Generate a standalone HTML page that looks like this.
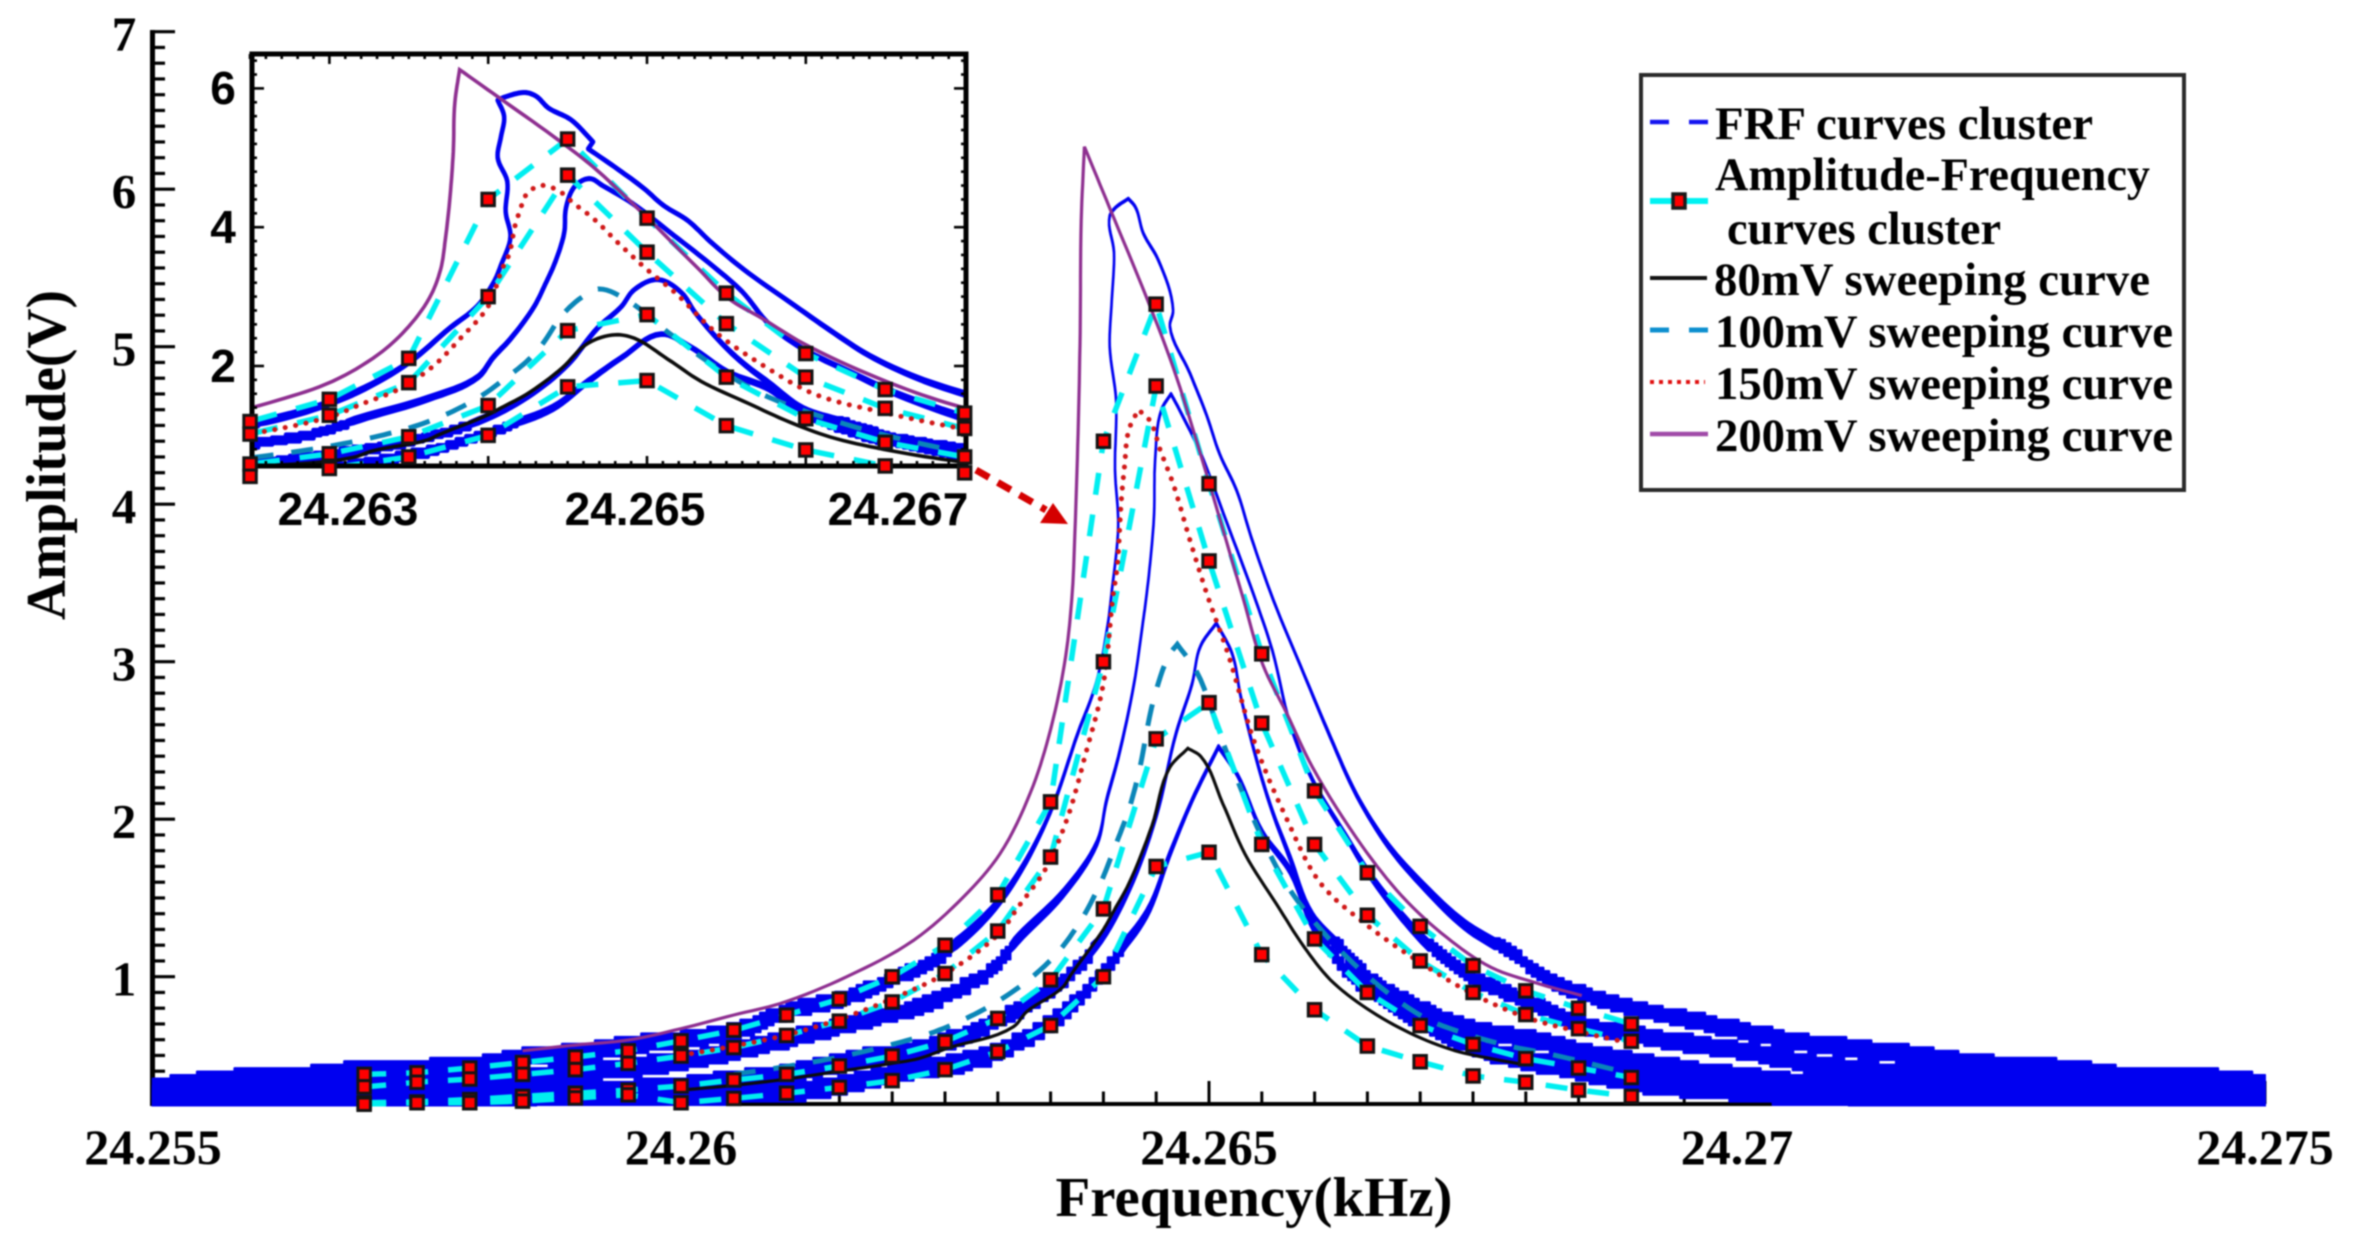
<!DOCTYPE html>
<html lang="en">
<head>
<meta charset="utf-8">
<title>FRF and amplitude-frequency curves</title>
<style>
html,body{margin:0;padding:0;background:#fff;width:2354px;height:1254px;overflow:hidden}
svg{display:block;filter:blur(.7px)}
text{font-family:"Liberation Serif",serif;font-weight:bold;fill:#000}
.sans{font-family:"Liberation Sans",sans-serif}
</style>
</head>
<body>
<svg id="chart" width="2354" height="1254" viewBox="0 0 2354 1254" xmlns="http://www.w3.org/2000/svg">
  <defs>
    <clipPath id="main-clip"><rect x="150" y="0" width="2116" height="1106.5"></rect></clipPath>
    <clipPath id="inset-clip"><rect x="252" y="54" width="714" height="412"></rect></clipPath>
  </defs>
  <g id="main-axes"></g>
  <g id="main-plot" clip-path="url(#main-clip)"></g>
  <g id="main-markers"></g>
  <text x="1254" y="1216" font-size="56" text-anchor="middle" textLength="397" lengthAdjust="spacingAndGlyphs">Frequency(kHz)</text>
  <text transform="translate(65 620) rotate(-90)" font-size="56" textLength="330" lengthAdjust="spacingAndGlyphs">Amplitude(V)</text>

  <g id="inset-plot" clip-path="url(#inset-clip)"></g>
  <g id="inset-axes"></g>
  <g id="inset-markers"></g>
  <text class="sans" x="348" y="525" font-size="46" text-anchor="middle">24.263</text>
  <text class="sans" x="635" y="525" font-size="46" text-anchor="middle">24.265</text>
  <text class="sans" x="898" y="525" font-size="46" text-anchor="middle">24.267</text>
  <text class="sans" x="223" y="104" font-size="46" text-anchor="middle">6</text>
  <text class="sans" x="223" y="243" font-size="46" text-anchor="middle">4</text>
  <text class="sans" x="223" y="382" font-size="46" text-anchor="middle">2</text>

  <g>
    <line x1="976" y1="470" x2="1046" y2="510" stroke="#d40000" stroke-width="7" stroke-dasharray="15 10"></line>
    <polygon points="1040,523 1053,503 1068,524" fill="#d40000"></polygon>
  </g>

  <g>
    <rect x="1641" y="75" width="543" height="415" fill="#fff" stroke="#2a2a2a" stroke-width="4"></rect>
    <g>
      <line x1="1650" y1="122" x2="1708" y2="122" stroke="#1414f0" stroke-width="4.5" stroke-dasharray="19 20"></line>
      <text x="1715" y="139" font-size="47" textLength="378" lengthAdjust="spacingAndGlyphs">FRF curves cluster</text>
    </g>
    <g>
      <line x1="1650" y1="201" x2="1708" y2="201" stroke="#00f2f2" stroke-width="6"></line>
      <rect x="1673" y="194" width="12" height="14" fill="#ff0000" stroke="#1a1a1a" stroke-width="3.5"></rect>
      <text x="1715" y="190" font-size="47" textLength="435" lengthAdjust="spacingAndGlyphs">Amplitude-Frequency</text>
      <text x="1727" y="244" font-size="47" textLength="274" lengthAdjust="spacingAndGlyphs">curves cluster</text>
    </g>
    <g>
      <line x1="1650" y1="278" x2="1707" y2="278" stroke="#111" stroke-width="4"></line>
      <text x="1714" y="295" font-size="47" textLength="436" lengthAdjust="spacingAndGlyphs">80mV sweeping curve</text>
    </g>
    <g>
      <line x1="1650" y1="330" x2="1708" y2="330" stroke="#0e8fcf" stroke-width="5" stroke-dasharray="19 20"></line>
      <text x="1715" y="347" font-size="47" textLength="458" lengthAdjust="spacingAndGlyphs">100mV sweeping curve</text>
    </g>
    <g>
      <line x1="1650" y1="382" x2="1705" y2="382" stroke="#e01010" stroke-width="4" stroke-dasharray="4 5"></line>
      <text x="1715" y="399" font-size="47" textLength="458" lengthAdjust="spacingAndGlyphs">150mV sweeping curve</text>
    </g>
    <g>
      <line x1="1650" y1="434" x2="1708" y2="434" stroke="#a04aa8" stroke-width="4.5"></line>
      <text x="1715" y="451" font-size="47" textLength="458" lengthAdjust="spacingAndGlyphs">200mV sweeping curve</text>
    </g>
  </g>
</svg>
<script>
// All frequencies are offsets in Hz above 24.255 kHz; amplitudes are in volts.
const xTickLabels = ["24.255", "24.26", "24.265", "24.27", "24.275"];
const xTickHz = [0, 5, 10, 15, 20];
const yTickLabels = ["1", "2", "3", "4", "5", "6", "7"];
const yTickVolts = [1, 2, 3, 4, 5, 6, 7];

// Amplitude-Frequency cluster (marker series)
const afHz = [2, 2.5, 3, 3.5, 4, 4.5, 5, 5.5, 6, 6.5, 7, 7.5, 8, 8.5, 9, 9.5, 10, 10.5, 11, 11.5, 12, 12.5, 13, 13.5, 14];
const af1Amp = [0.38, 0.39, 0.42, 0.455, 0.49, 0.53, 0.593, 0.66, 0.756, 0.858, 1.0, 1.2, 1.52, 2.11, 4.40, 5.27, 4.13, 3.05, 2.18, 1.66, 1.32, 1.07, 0.91, 0.80, 0.70];
const af2Amp = [0.30, 0.33, 0.35, 0.38, 0.41, 0.45, 0.496, 0.55, 0.627, 0.718, 0.84, 1.02, 1.29, 1.76, 3.00, 4.75, 3.64, 2.61, 1.84, 1.39, 1.10, 0.90, 0.76, 0.67, 0.59];
const af3Amp = [0.20, 0.205, 0.22, 0.24, 0.26, 0.28, 0.306, 0.344, 0.38, 0.433, 0.496, 0.587, 0.735, 0.98, 1.43, 2.51, 2.74, 1.84, 1.24, 0.90, 0.69, 0.57, 0.48, 0.42, 0.36];
const af4Amp = [0.19, 0.20, 0.20, 0.21, 0.23, 0.25, 0.20, 0.227, 0.26, 0.297, 0.34, 0.41, 0.524, 0.69, 1.00, 1.70, 1.79, 1.14, 0.79, 0.56, 0.46, 0.37, 0.33, 0.28, 0.24];

// FRF curve cluster
const frf1Hz = [0, 0.67, 1.5, 2, 3, 3.5, 4, 4.5, 5, 5.5, 6, 6.46, 7, 7.5, 7.9, 8.18, 8.5, 8.76, 8.93, 9.04, 9.08, 9.14, 9.11, 9.12, 9.06, 9.08, 9.10, 9.06, 9.11, 9.236, 9.30, 9.378, 9.52, 9.66, 9.63, 9.82, 9.98, 10.10, 10.26, 10.4, 10.61, 10.9, 11.15, 11.4, 11.7, 12.04, 12.42, 12.8, 13.22, 13.5, 14, 14.59, 15.44, 16.39, 17.33, 18.12, 18.74, 19.67, 20];
const frf1Amp = [0.295, 0.35, 0.375, 0.41, 0.43, 0.49, 0.515, 0.57, 0.60, 0.655, 0.785, 0.852, 0.99, 1.16, 1.39, 1.635, 2.05, 2.55, 2.86, 3.23, 3.45, 3.86, 4.22, 4.66, 5.0, 5.3, 5.6, 5.83, 5.88, 5.94, 5.89, 5.72, 5.55, 5.23, 5.13, 4.83, 4.56, 4.32, 4.09, 3.79, 3.39, 2.92, 2.52, 2.15, 1.83, 1.57, 1.33, 1.17, 0.975, 0.894, 0.799, 0.714, 0.596, 0.518, 0.44, 0.41, 0.36, 0.345, 0.31];
const frf2Hz = [0, 2, 3, 3.5, 4, 4.5, 5, 5.5, 5.94, 6.57, 7.2, 7.9, 8.24, 8.62, 8.94, 9.03, 9.14, 9.29, 9.37, 9.41, 9.46, 9.48, 9.49, 9.55, 9.64, 9.72, 9.91, 10.17, 10.42, 10.6, 10.77, 10.98, 11.28, 11.52, 11.83, 12.08, 12.42, 12.8, 13.23, 13.5, 14, 14.33, 15, 15.85, 16.5, 18, 20];
const frf2Amp = [0.25, 0.31, 0.352, 0.362, 0.393, 0.425, 0.467, 0.53, 0.598, 0.704, 0.81, 1.04, 1.275, 1.53, 1.85, 2.12, 2.39, 2.86, 3.23, 3.43, 3.75, 3.94, 4.28, 4.60, 4.70, 4.60, 4.34, 3.88, 3.43, 3.07, 2.6, 2.25, 1.91, 1.65, 1.38, 1.2, 1.01, 0.90, 0.778, 0.693, 0.636, 0.594, 0.528, 0.424, 0.386, 0.34, 0.28];
const frf3Hz = [0, 2, 3, 4, 4.5, 5, 5.5, 5.94, 6.57, 7.2, 7.83, 8.47, 8.94, 9.25, 9.5, 9.69, 9.84, 9.92, 10.07, 10.22, 10.3, 10.47, 10.6, 10.77, 10.98, 11.23, 11.52, 11.83, 12.25, 12.67, 13.23, 13.5, 14, 14.33, 14.81, 15.91, 17, 18.5, 20];
const frf3Amp = [0.22, 0.20, 0.24, 0.273, 0.284, 0.305, 0.347, 0.376, 0.471, 0.535, 0.683, 0.916, 1.21, 1.57, 2.02, 2.55, 2.86, 3.1, 3.245, 3.05, 2.78, 2.33, 2.05, 1.75, 1.38, 1.19, 0.98, 0.85, 0.72, 0.64, 0.573, 0.52, 0.456, 0.425, 0.378, 0.306, 0.276, 0.25, 0.23];
const frf4Hz = [0, 3, 4, 5, 5.5, 5.94, 6.57, 7.2, 7.83, 8.62, 9.1, 9.41, 9.63, 9.84, 10.09, 10.27, 10.51, 10.77, 10.98, 11.32, 11.66, 12.04, 12.5, 12.96, 13.55, 14, 14.93, 15.75, 17, 20];
const frf4Amp = [0.21, 0.22, 0.24, 0.246, 0.256, 0.26, 0.323, 0.408, 0.492, 0.789, 1.127, 1.40, 1.78, 2.12, 2.46, 2.28, 1.91, 1.67, 1.33, 1.01, 0.85, 0.69, 0.55, 0.47, 0.393, 0.33, 0.274, 0.238, 0.225, 0.21];
// Measured noise of the FRF traces: half-spread in volts against amplitude
const noiseAtAmp = [0.2, 0.45, 0.6, 1, 1.5, 2, 3, 7];
const noiseHalfSpread = [0.056, 0.056, 0.05, 0.04, 0.025, 0.012, 0.004, 0.004];
// Amplitude resolution of the FRF acquisition, volts
const adcStepVolts = 0.022;

// Sweep curves
const sweep80Hz = [5, 5.5, 6, 6.5, 7, 7.25, 7.52, 8.15, 8.27, 8.62, 8.69, 9.0, 9.1, 9.24, 9.46, 9.63, 9.8, 9.92, 10.13, 10.34, 10.64, 10.9, 11.15, 11.49, 11.91, 12.33, 12.67, 13];
const sweep80Amp = [0.28, 0.31, 0.35, 0.40, 0.45, 0.48, 0.545, 0.683, 0.775, 0.937, 1.01, 1.30, 1.42, 1.59, 1.96, 2.33, 2.45, 2.40, 2.10, 1.78, 1.46, 1.19, 0.98, 0.80, 0.64, 0.53, 0.48, 0.44];
const sweep100Hz = [5.5, 6, 6.5, 7, 7.36, 7.7, 8.02, 8.31, 8.56, 8.78, 8.97, 9.11, 9.24, 9.33, 9.48, 9.63, 9.70, 9.88, 10.13, 10.43, 10.73, 11.02, 11.49, 12.04, 12.42, 12.84, 13.22, 13.9];
const sweep100Amp = [0.38, 0.43, 0.49, 0.57, 0.64, 0.735, 0.852, 0.99, 1.148, 1.35, 1.59, 1.826, 2.06, 2.28, 2.77, 3.05, 3.11, 2.94, 2.49, 1.99, 1.59, 1.33, 1.01, 0.74, 0.64, 0.56, 0.51, 0.40];
const sweep150Hz = [5, 5.5, 6, 6.5, 7, 7.5, 8.02, 8.19, 8.44, 8.65, 8.83, 9.0, 9.09, 9.13, 9.17, 9.2, 9.24, 9.33, 9.44, 9.54, 9.66, 9.82, 9.99, 10.18, 10.43, 10.73, 11.06, 11.49, 12.0, 12.5, 13.01, 13.51, 13.94];
const sweep150Amp = [0.50, 0.56, 0.63, 0.73, 0.86, 1.02, 1.28, 1.44, 1.67, 1.99, 2.41, 2.86, 3.41, 3.6, 4.03, 4.24, 4.47, 4.60, 4.53, 4.34, 4.13, 3.77, 3.41, 3.05, 2.49, 2.01, 1.59, 1.33, 1.09, 0.89, 0.74, 0.65, 0.585];
const sweep200Hz = [3.5, 4, 4.5, 5, 5.5, 5.94, 6.57, 7.2, 7.68, 8.02, 8.31, 8.48, 8.63, 8.70, 8.73, 8.76, 8.78, 8.79, 8.82, 9.06, 9.41, 9.66, 9.91, 10.32, 10.51, 10.73, 10.98, 11.45, 11.83, 12.25, 12.67, 13.1, 13.53];
const sweep200Amp = [0.53, 0.566, 0.598, 0.67, 0.757, 0.83, 1.0, 1.23, 1.51, 1.78, 2.17, 2.52, 2.98, 3.39, 3.82, 4.45, 5.09, 5.8, 6.27, 5.88, 5.31, 4.87, 4.34, 3.41, 2.98, 2.68, 2.33, 1.83, 1.51, 1.25, 1.06, 0.96, 0.88];

const SVGNS = 'http://www.w3.org/2000/svg';
const xMain = hz => 153 + hz * 105.6;
const yMain = v => 976.7 - (v - 1) * 157.5;
const xInset = hz => 647 + (hz - 10) * 158.8;
const yInset = v => 366 - (v - 2) * 69.4;

function make(parent, tag, attrs) {
  const el = document.createElementNS(SVGNS, tag);
  for (const k in attrs) el.setAttribute(k, attrs[k]);
  parent.appendChild(el);
  return el;
}
function noiseAt(v) {
  if (v <= noiseAtAmp[0]) return noiseHalfSpread[0];
  for (let i = 1; i < noiseAtAmp.length; i++) {
    if (v <= noiseAtAmp[i]) {
      const t = (v - noiseAtAmp[i - 1]) / (noiseAtAmp[i] - noiseAtAmp[i - 1]);
      return noiseHalfSpread[i - 1] + t * (noiseHalfSpread[i] - noiseHalfSpread[i - 1]);
    }
  }
  return noiseHalfSpread[noiseHalfSpread.length - 1];
}
function linePoints(hz, amp, xf, yf) {
  return hz.map((h, i) => xf(h).toFixed(1) + ',' + yf(amp[i]).toFixed(1)).join(' ');
}
// Smooth a curve through its data points in pixel space; sharp corners stay sharp.
function smoothSample(hz, amp, xf, yf) {
  const p = hz.map((h, i) => [xf(h), yf(amp[i])]);
  const unit = (a, b) => {
    const dx = b[0] - a[0], dy = b[1] - a[1], L = Math.hypot(dx, dy) || 1;
    return [dx / L, dy / L];
  };
  const inT = [], outT = [];
  for (let i = 0; i < p.length; i++) {
    if (i === 0) { const u = unit(p[0], p[1]); inT.push(u); outT.push(u); continue; }
    if (i === p.length - 1) { const u = unit(p[i - 1], p[i]); inT.push(u); outT.push(u); continue; }
    const a = unit(p[i - 1], p[i]), b = unit(p[i], p[i + 1]);
    if (a[0] * b[0] + a[1] * b[1] < 0.45) { inT.push(a); outT.push(b); }
    else { const u = unit([0, 0], [a[0] + b[0], a[1] + b[1]]); inT.push(u); outT.push(u); }
  }
  const out = [];
  const N = 8;
  for (let i = 0; i < p.length - 1; i++) {
    const L = Math.hypot(p[i + 1][0] - p[i][0], p[i + 1][1] - p[i][1]) / 3;
    const c1 = [p[i][0] + outT[i][0] * L, p[i][1] + outT[i][1] * L];
    const c2 = [p[i + 1][0] - inT[i + 1][0] * L, p[i + 1][1] - inT[i + 1][1] * L];
    for (let k = 0; k < N; k++) {
      const t = k / N, m = 1 - t;
      out.push([
        m * m * m * p[i][0] + 3 * m * m * t * c1[0] + 3 * m * t * t * c2[0] + t * t * t * p[i + 1][0],
        m * m * m * p[i][1] + 3 * m * m * t * c1[1] + 3 * m * t * t * c2[1] + t * t * t * p[i + 1][1]
      ]);
    }
  }
  out.push(p[p.length - 1]);
  return out;
}
function smoothPoints(hz, amp, xf, yf) {
  return smoothSample(hz, amp, xf, yf).map(q => q[0].toFixed(1) + ',' + q[1].toFixed(1)).join(' ');
}
// FRF trace as a filled noise band with stair-stepped (quantised) edges in the tails.
function bandPoints(hz, amp, xf, yf) {
  const k = yf(0) - yf(1);
  const s = smoothSample(hz, amp, xf, yf);
  const edge = (sign, phase) => {
    const pts = [];
    let prevY = null;
    s.forEach(q => {
      const v = (yf(0) - q[1]) / k;
      let e = v + sign * noiseAt(v);
      if (v < 1.2) e = (Math.round(e / adcStepVolts + phase) - phase) * adcStepVolts;
      const y = yf(e);
      if (prevY !== null && v < 1.2) pts.push(q[0].toFixed(1) + ',' + prevY.toFixed(1));
      pts.push(q[0].toFixed(1) + ',' + y.toFixed(1));
      prevY = y;
    });
    return pts;
  };
  return edge(1, 0).concat(edge(-1, 0.5).reverse()).join(' ');
}

function drawCurves(g, markerG, xf, yf, prefix, widths) {
  const frfs = [[frf1Hz, frf1Amp], [frf2Hz, frf2Amp], [frf3Hz, frf3Amp], [frf4Hz, frf4Amp]];
  frfs.forEach((c, i) => {
    const band = make(g, 'polygon', {points: bandPoints(c[0], c[1], xf, yf), fill: '#0000f0', stroke: '#0000f0', 'stroke-width': widths.frf, 'stroke-linejoin': 'round'});
    
    
  });
  const s100 = make(g, 'polyline', {points: smoothPoints(sweep100Hz, sweep100Amp, xf, yf), fill: 'none', stroke: '#0a86b8', 'stroke-width': 5, 'stroke-dasharray': '22 18'});
  
  
  const afs = [af1Amp, af2Amp, af3Amp, af4Amp];
  afs.forEach((a, i) => {
    const l = make(g, 'polyline', {points: linePoints(afHz, a, xf, yf), fill: 'none', stroke: '#00eef0', 'stroke-width': 5.5, 'stroke-dasharray': '22 20'});
    
    
  });
  const s80 = make(g, 'polyline', {points: smoothPoints(sweep80Hz, sweep80Amp, xf, yf), fill: 'none', stroke: '#0c0c0c', 'stroke-width': widths.solid});
  
  
  const s150 = make(g, 'polyline', {points: smoothPoints(sweep150Hz, sweep150Amp, xf, yf), fill: 'none', stroke: '#d01818', 'stroke-width': 5, 'stroke-linecap': 'round', 'stroke-dasharray': '0.1 10.5'});
  
  
  const s200 = make(g, 'polyline', {points: smoothPoints(sweep200Hz, sweep200Amp, xf, yf), fill: 'none', stroke: '#8e2f90', 'stroke-width': widths.solid});
  
  
  afs.forEach((a, i) => {
    a.forEach((v, j) => {
      if (afHz[j] < 7.49 && prefix === 'inset-') return;
      if (afHz[j] > 12.01 && prefix === 'inset-') return;
      const m = make(markerG, 'rect', {x: (xf(afHz[j]) - 6.25).toFixed(1), y: (yf(v) - 6.25).toFixed(1), width: 12.5, height: 12.5, fill: '#ff0000', stroke: '#141414', 'stroke-width': 3});
      
      
    });
  });
}

// Main axes
const axes = document.getElementById('main-axes');
const ySpine = make(axes, 'line', {x1: 152.5, y1: 30, x2: 152.5, y2: 1106, stroke: '#000', 'stroke-width': 5});


const xSpine = make(axes, 'line', {x1: 150, y1: 1104, x2: xMain(20), y2: 1104, stroke: '#000', 'stroke-width': 4});


for (let i = 0; i <= 68; i++) {
  const v = 0.2 + i * 0.1;
  const major = (i + 2) % 10 === 0;
  const t = make(axes, 'line', {x1: 152, y1: yMain(v), x2: major ? 175 : 165, y2: yMain(v), stroke: '#000', 'stroke-width': 3.2});
  
  
}
for (let i = 0; i <= 40; i++) {
  const hz = i * 0.5;
  const major = i % 10 === 0;
  const t = make(axes, 'line', {x1: xMain(hz), y1: 1104, x2: xMain(hz), y2: major ? 1081 : 1091.5, stroke: '#000', 'stroke-width': 3});
  
  
}
xTickLabels.forEach((label, i) => {
  const t = make(axes, 'text', {x: xMain(xTickHz[i]), y: 1164, 'font-size': 50, 'text-anchor': 'middle'});
  t.textContent = label;
  
  
});
yTickLabels.forEach((label, i) => {
  const t = make(axes, 'text', {x: 124, y: yMain(yTickVolts[i]) + 19, 'font-size': 49, 'text-anchor': 'middle'});
  t.textContent = label;
  
  
});

// Inset axes
const ia = document.getElementById('inset-axes');
const box = make(ia, 'rect', {x: 252, y: 54, width: 714, height: 412, fill: 'none', stroke: '#000', 'stroke-width': 5});


for (let i = 0; i <= 45; i++) {
  const hz = 7.5 + i * 0.1;
  const major = (i + 5) % 10 === 0;
  const len = major ? 10 : 5;
  [[54, 54 + len], [466, 466 - len]].forEach(p => {
    const t = make(ia, 'line', {x1: xInset(hz), y1: p[0], x2: xInset(hz), y2: p[1], stroke: '#000', 'stroke-width': 2.6});
    
    
  });
}
for (let i = 0; i <= 29; i++) {
  const v = 0.6 + i * 0.2;
  const major = Math.abs(v / 2 - Math.round(v / 2)) < 1e-6;
  const len = major ? 12 : 5;
  [[252, 252 + len], [966, 966 - len]].forEach(p => {
    const t = make(ia, 'line', {x1: p[0], y1: yInset(v), x2: p[1], y2: yInset(v), stroke: '#000', 'stroke-width': 2.6});
    
    
  });
}

drawCurves(document.getElementById('main-plot'), document.getElementById('main-markers'), xMain, yMain, 'main-', {frf: 2.6, solid: 3.2});
drawCurves(document.getElementById('inset-plot'), document.getElementById('inset-markers'), xInset, yInset, 'inset-', {frf: 4.5, solid: 3.6});
</script>
</body>
</html>
